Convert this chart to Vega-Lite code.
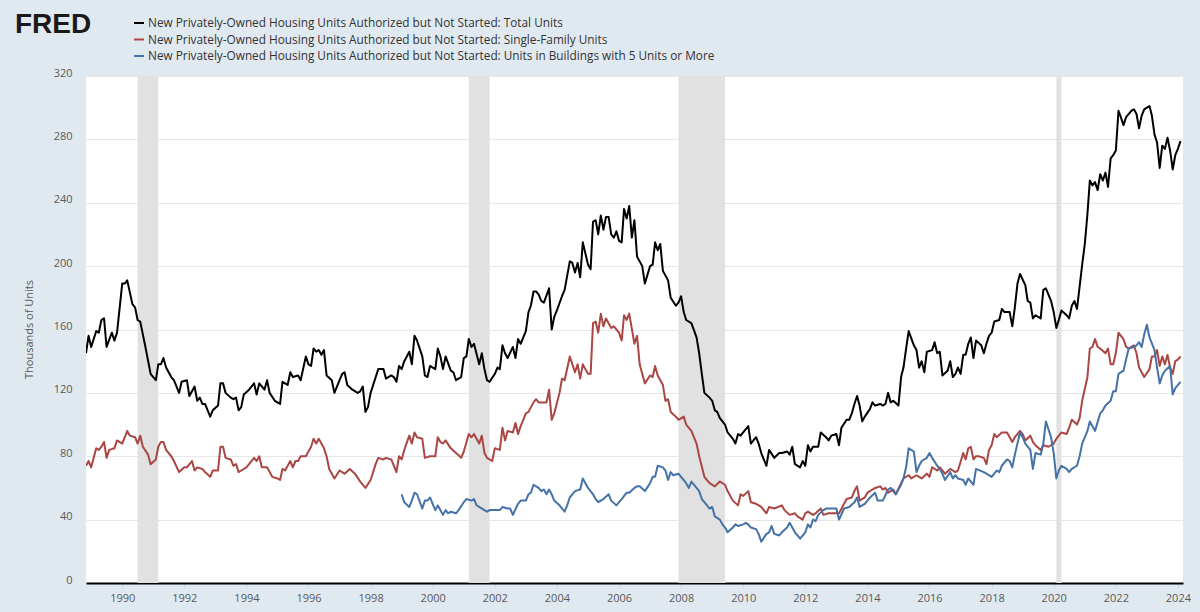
{
  "$schema": "https://vega.github.io/schema/vega-lite/v6.json",
  "width": 1097,
  "height": 507,
  "autosize": {"type": "none"},
  "padding": {"left": 86, "top": 76, "right": 17, "bottom": 29},
  "background": "#e1e9f0",
  "config": {
    "view": {"stroke": null, "fill": "#ffffff"},
    "font": "Open Sans"
  },
  "title": {
    "text": "FRED",
    "anchor": "start",
    "frame": "group",
    "dx": -71,
    "offset": 0,
    "dy": 44,
    "baseline": "alphabetic",
    "font": "Liberation Sans",
    "fontSize": 28,
    "fontWeight": "bold",
    "color": "#1a1a1a"
  },
  "datasets": {
    "rec": [
      {"a": "1990-07-01", "b": "1991-03-01"},
      {"a": "2001-03-01", "b": "2001-11-01"},
      {"a": "2007-12-01", "b": "2009-06-01"},
      {"a": "2020-02-01", "b": "2020-04-01"}
    ],
    "ser": [
      {"d":"1988-11","s":"T","v":145},{"d":"1988-12","s":"T","v":156},{"d":"1989-01","s":"T","v":149},{"d":"1989-03","s":"T","v":159},{"d":"1989-04","s":"T","v":158},{"d":"1989-05","s":"T","v":166},{"d":"1989-06","s":"T","v":167},{"d":"1989-07","s":"T","v":149},{"d":"1989-09","s":"T","v":158},{"d":"1989-10","s":"T","v":153},{"d":"1989-11","s":"T","v":158},{"d":"1990-01","s":"T","v":189},{"d":"1990-02","s":"T","v":189},{"d":"1990-03","s":"T","v":191},{"d":"1990-05","s":"T","v":176},{"d":"1990-06","s":"T","v":174},{"d":"1990-07","s":"T","v":166},{"d":"1990-08","s":"T","v":165},{"d":"1990-10","s":"T","v":149},{"d":"1990-12","s":"T","v":132},{"d":"1991-01","s":"T","v":130},{"d":"1991-02","s":"T","v":128},{"d":"1991-03","s":"T","v":138},{"d":"1991-04","s":"T","v":138},{"d":"1991-05","s":"T","v":142},{"d":"1991-06","s":"T","v":136},{"d":"1991-08","s":"T","v":130},{"d":"1991-09","s":"T","v":128},{"d":"1991-11","s":"T","v":120},{"d":"1991-12","s":"T","v":127},{"d":"1992-02","s":"T","v":128},{"d":"1992-03","s":"T","v":118},{"d":"1992-05","s":"T","v":124},{"d":"1992-06","s":"T","v":115},{"d":"1992-07","s":"T","v":117},{"d":"1992-08","s":"T","v":113},{"d":"1992-09","s":"T","v":113},{"d":"1992-11","s":"T","v":105},{"d":"1992-12","s":"T","v":109},{"d":"1993-02","s":"T","v":112},{"d":"1993-03","s":"T","v":126},{"d":"1993-04","s":"T","v":126},{"d":"1993-05","s":"T","v":120},{"d":"1993-07","s":"T","v":117},{"d":"1993-08","s":"T","v":116},{"d":"1993-09","s":"T","v":117},{"d":"1993-10","s":"T","v":109},{"d":"1993-11","s":"T","v":111},{"d":"1993-12","s":"T","v":119},{"d":"1994-02","s":"T","v":122},{"d":"1994-04","s":"T","v":126},{"d":"1994-05","s":"T","v":119},{"d":"1994-06","s":"T","v":126},{"d":"1994-08","s":"T","v":122},{"d":"1994-09","s":"T","v":128},{"d":"1994-10","s":"T","v":120},{"d":"1994-12","s":"T","v":115},{"d":"1995-02","s":"T","v":113},{"d":"1995-03","s":"T","v":127},{"d":"1995-05","s":"T","v":125},{"d":"1995-06","s":"T","v":133},{"d":"1995-07","s":"T","v":130},{"d":"1995-09","s":"T","v":131},{"d":"1995-10","s":"T","v":128},{"d":"1995-12","s":"T","v":143},{"d":"1996-01","s":"T","v":138},{"d":"1996-02","s":"T","v":137},{"d":"1996-03","s":"T","v":148},{"d":"1996-04","s":"T","v":146},{"d":"1996-05","s":"T","v":147},{"d":"1996-06","s":"T","v":144},{"d":"1996-07","s":"T","v":147},{"d":"1996-08","s":"T","v":131},{"d":"1996-10","s":"T","v":128},{"d":"1996-11","s":"T","v":120},{"d":"1997-01","s":"T","v":128},{"d":"1997-02","s":"T","v":132},{"d":"1997-03","s":"T","v":133},{"d":"1997-04","s":"T","v":125},{"d":"1997-06","s":"T","v":122},{"d":"1997-08","s":"T","v":120},{"d":"1997-09","s":"T","v":121},{"d":"1997-10","s":"T","v":124},{"d":"1997-11","s":"T","v":108},{"d":"1997-12","s":"T","v":111},{"d":"1998-01","s":"T","v":120},{"d":"1998-04","s":"T","v":135},{"d":"1998-06","s":"T","v":135},{"d":"1998-07","s":"T","v":129},{"d":"1998-09","s":"T","v":131},{"d":"1998-10","s":"T","v":130},{"d":"1998-11","s":"T","v":127},{"d":"1998-12","s":"T","v":137},{"d":"1999-01","s":"T","v":135},{"d":"1999-02","s":"T","v":140},{"d":"1999-04","s":"T","v":146},{"d":"1999-05","s":"T","v":138},{"d":"1999-06","s":"T","v":156},{"d":"1999-07","s":"T","v":153},{"d":"1999-09","s":"T","v":143},{"d":"1999-10","s":"T","v":131},{"d":"1999-11","s":"T","v":130},{"d":"1999-12","s":"T","v":137},{"d":"2000-02","s":"T","v":135},{"d":"2000-03","s":"T","v":148},{"d":"2000-04","s":"T","v":143},{"d":"2000-05","s":"T","v":135},{"d":"2000-06","s":"T","v":143},{"d":"2000-08","s":"T","v":134},{"d":"2000-09","s":"T","v":133},{"d":"2000-10","s":"T","v":128},{"d":"2000-12","s":"T","v":130},{"d":"2001-01","s":"T","v":142},{"d":"2001-02","s":"T","v":143},{"d":"2001-03","s":"T","v":154},{"d":"2001-04","s":"T","v":149},{"d":"2001-05","s":"T","v":151},{"d":"2001-07","s":"T","v":138},{"d":"2001-08","s":"T","v":145},{"d":"2001-09","s":"T","v":135},{"d":"2001-10","s":"T","v":128},{"d":"2001-11","s":"T","v":127},{"d":"2002-01","s":"T","v":132},{"d":"2002-02","s":"T","v":136},{"d":"2002-03","s":"T","v":135},{"d":"2002-04","s":"T","v":150},{"d":"2002-05","s":"T","v":145},{"d":"2002-06","s":"T","v":142},{"d":"2002-08","s":"T","v":149},{"d":"2002-09","s":"T","v":142},{"d":"2002-10","s":"T","v":154},{"d":"2002-11","s":"T","v":151},{"d":"2003-01","s":"T","v":159},{"d":"2003-02","s":"T","v":171},{"d":"2003-03","s":"T","v":175},{"d":"2003-04","s":"T","v":184},{"d":"2003-05","s":"T","v":184},{"d":"2003-06","s":"T","v":182},{"d":"2003-07","s":"T","v":178},{"d":"2003-08","s":"T","v":177},{"d":"2003-10","s":"T","v":186},{"d":"2003-11","s":"T","v":160},{"d":"2003-12","s":"T","v":168},{"d":"2004-01","s":"T","v":172},{"d":"2004-03","s":"T","v":181},{"d":"2004-04","s":"T","v":185},{"d":"2004-06","s":"T","v":203},{"d":"2004-07","s":"T","v":202},{"d":"2004-08","s":"T","v":196},{"d":"2004-09","s":"T","v":202},{"d":"2004-10","s":"T","v":193},{"d":"2004-11","s":"T","v":215},{"d":"2005-01","s":"T","v":201},{"d":"2005-02","s":"T","v":198},{"d":"2005-03","s":"T","v":228},{"d":"2005-04","s":"T","v":229},{"d":"2005-05","s":"T","v":220},{"d":"2005-06","s":"T","v":232},{"d":"2005-07","s":"T","v":223},{"d":"2005-08","s":"T","v":231},{"d":"2005-09","s":"T","v":231},{"d":"2005-10","s":"T","v":220},{"d":"2005-11","s":"T","v":218},{"d":"2005-12","s":"T","v":222},{"d":"2006-01","s":"T","v":216},{"d":"2006-02","s":"T","v":215},{"d":"2006-03","s":"T","v":236},{"d":"2006-04","s":"T","v":230},{"d":"2006-05","s":"T","v":238},{"d":"2006-06","s":"T","v":218},{"d":"2006-07","s":"T","v":229},{"d":"2006-08","s":"T","v":206},{"d":"2006-10","s":"T","v":200},{"d":"2006-11","s":"T","v":189},{"d":"2007-01","s":"T","v":200},{"d":"2007-02","s":"T","v":201},{"d":"2007-03","s":"T","v":215},{"d":"2007-04","s":"T","v":210},{"d":"2007-05","s":"T","v":214},{"d":"2007-06","s":"T","v":197},{"d":"2007-08","s":"T","v":191},{"d":"2007-09","s":"T","v":180},{"d":"2007-11","s":"T","v":175},{"d":"2007-12","s":"T","v":177},{"d":"2008-01","s":"T","v":181},{"d":"2008-02","s":"T","v":171},{"d":"2008-03","s":"T","v":166},{"d":"2008-05","s":"T","v":164},{"d":"2008-07","s":"T","v":155},{"d":"2008-08","s":"T","v":145},{"d":"2008-09","s":"T","v":132},{"d":"2008-10","s":"T","v":120},{"d":"2008-12","s":"T","v":117},{"d":"2009-01","s":"T","v":115},{"d":"2009-02","s":"T","v":109},{"d":"2009-03","s":"T","v":108},{"d":"2009-04","s":"T","v":104},{"d":"2009-06","s":"T","v":100},{"d":"2009-07","s":"T","v":95},{"d":"2009-09","s":"T","v":91},{"d":"2009-10","s":"T","v":88},{"d":"2009-11","s":"T","v":94},{"d":"2009-12","s":"T","v":93},{"d":"2010-03","s":"T","v":99},{"d":"2010-04","s":"T","v":88},{"d":"2010-06","s":"T","v":92},{"d":"2010-07","s":"T","v":88},{"d":"2010-08","s":"T","v":82},{"d":"2010-10","s":"T","v":74},{"d":"2010-11","s":"T","v":84},{"d":"2011-01","s":"T","v":79},{"d":"2011-03","s":"T","v":82},{"d":"2011-04","s":"T","v":82},{"d":"2011-06","s":"T","v":83},{"d":"2011-07","s":"T","v":81},{"d":"2011-08","s":"T","v":86},{"d":"2011-09","s":"T","v":75},{"d":"2011-11","s":"T","v":73},{"d":"2011-12","s":"T","v":77},{"d":"2012-01","s":"T","v":74},{"d":"2012-02","s":"T","v":87},{"d":"2012-03","s":"T","v":83},{"d":"2012-04","s":"T","v":86},{"d":"2012-06","s":"T","v":86},{"d":"2012-07","s":"T","v":95},{"d":"2012-09","s":"T","v":92},{"d":"2012-10","s":"T","v":90},{"d":"2012-11","s":"T","v":93},{"d":"2013-01","s":"T","v":94},{"d":"2013-02","s":"T","v":87},{"d":"2013-03","s":"T","v":98},{"d":"2013-05","s":"T","v":103},{"d":"2013-06","s":"T","v":103},{"d":"2013-07","s":"T","v":107},{"d":"2013-08","s":"T","v":113},{"d":"2013-09","s":"T","v":118},{"d":"2013-10","s":"T","v":112},{"d":"2013-11","s":"T","v":102},{"d":"2013-12","s":"T","v":105},{"d":"2014-02","s":"T","v":110},{"d":"2014-03","s":"T","v":114},{"d":"2014-04","s":"T","v":112},{"d":"2014-06","s":"T","v":113},{"d":"2014-07","s":"T","v":112},{"d":"2014-08","s":"T","v":113},{"d":"2014-09","s":"T","v":120},{"d":"2014-10","s":"T","v":114},{"d":"2014-11","s":"T","v":115},{"d":"2015-01","s":"T","v":112},{"d":"2015-02","s":"T","v":130},{"d":"2015-03","s":"T","v":136},{"d":"2015-04","s":"T","v":148},{"d":"2015-05","s":"T","v":159},{"d":"2015-07","s":"T","v":150},{"d":"2015-08","s":"T","v":147},{"d":"2015-09","s":"T","v":136},{"d":"2015-10","s":"T","v":140},{"d":"2015-11","s":"T","v":133},{"d":"2015-12","s":"T","v":146},{"d":"2016-02","s":"T","v":147},{"d":"2016-03","s":"T","v":152},{"d":"2016-04","s":"T","v":145},{"d":"2016-05","s":"T","v":146},{"d":"2016-06","s":"T","v":131},{"d":"2016-08","s":"T","v":134},{"d":"2016-09","s":"T","v":140},{"d":"2016-10","s":"T","v":130},{"d":"2016-11","s":"T","v":132},{"d":"2016-12","s":"T","v":136},{"d":"2017-01","s":"T","v":132},{"d":"2017-02","s":"T","v":144},{"d":"2017-03","s":"T","v":144},{"d":"2017-04","s":"T","v":151},{"d":"2017-05","s":"T","v":155},{"d":"2017-06","s":"T","v":142},{"d":"2017-07","s":"T","v":153},{"d":"2017-09","s":"T","v":150},{"d":"2017-10","s":"T","v":145},{"d":"2017-11","s":"T","v":151},{"d":"2017-12","s":"T","v":156},{"d":"2018-01","s":"T","v":158},{"d":"2018-02","s":"T","v":165},{"d":"2018-04","s":"T","v":166},{"d":"2018-05","s":"T","v":173},{"d":"2018-06","s":"T","v":171},{"d":"2018-08","s":"T","v":171},{"d":"2018-09","s":"T","v":162},{"d":"2018-10","s":"T","v":174},{"d":"2018-11","s":"T","v":189},{"d":"2018-12","s":"T","v":195},{"d":"2019-02","s":"T","v":188},{"d":"2019-03","s":"T","v":178},{"d":"2019-04","s":"T","v":177},{"d":"2019-05","s":"T","v":167},{"d":"2019-06","s":"T","v":169},{"d":"2019-08","s":"T","v":167},{"d":"2019-09","s":"T","v":185},{"d":"2019-10","s":"T","v":186},{"d":"2019-12","s":"T","v":178},{"d":"2020-01","s":"T","v":171},{"d":"2020-02","s":"T","v":161},{"d":"2020-03","s":"T","v":166},{"d":"2020-04","s":"T","v":172},{"d":"2020-06","s":"T","v":169},{"d":"2020-07","s":"T","v":167},{"d":"2020-08","s":"T","v":175},{"d":"2020-09","s":"T","v":178},{"d":"2020-10","s":"T","v":173},{"d":"2020-11","s":"T","v":187},{"d":"2020-12","s":"T","v":201},{"d":"2021-01","s":"T","v":214},{"d":"2021-02","s":"T","v":233},{"d":"2021-03","s":"T","v":254},{"d":"2021-04","s":"T","v":251},{"d":"2021-05","s":"T","v":253},{"d":"2021-06","s":"T","v":248},{"d":"2021-07","s":"T","v":258},{"d":"2021-08","s":"T","v":254},{"d":"2021-09","s":"T","v":259},{"d":"2021-10","s":"T","v":250},{"d":"2021-11","s":"T","v":268},{"d":"2021-12","s":"T","v":270},{"d":"2022-01","s":"T","v":273},{"d":"2022-02","s":"T","v":298},{"d":"2022-03","s":"T","v":294},{"d":"2022-04","s":"T","v":289},{"d":"2022-05","s":"T","v":294},{"d":"2022-06","s":"T","v":296},{"d":"2022-07","s":"T","v":298},{"d":"2022-08","s":"T","v":299},{"d":"2022-09","s":"T","v":296},{"d":"2022-10","s":"T","v":287},{"d":"2022-11","s":"T","v":295},{"d":"2022-12","s":"T","v":299},{"d":"2023-01","s":"T","v":300},{"d":"2023-02","s":"T","v":301},{"d":"2023-03","s":"T","v":295},{"d":"2023-04","s":"T","v":283},{"d":"2023-05","s":"T","v":278},{"d":"2023-06","s":"T","v":262},{"d":"2023-07","s":"T","v":276},{"d":"2023-08","s":"T","v":274},{"d":"2023-09","s":"T","v":281},{"d":"2023-10","s":"T","v":273},{"d":"2023-11","s":"T","v":261},{"d":"2023-12","s":"T","v":270},{"d":"2024-01","s":"T","v":274},{"d":"2024-02","s":"T","v":279},
      {"d":"1988-11","s":"S","v":74},{"d":"1988-12","s":"S","v":77},{"d":"1989-01","s":"S","v":73},{"d":"1989-03","s":"S","v":85},{"d":"1989-04","s":"S","v":84},{"d":"1989-05","s":"S","v":86},{"d":"1989-06","s":"S","v":89},{"d":"1989-07","s":"S","v":79},{"d":"1989-08","s":"S","v":84},{"d":"1989-10","s":"S","v":85},{"d":"1989-11","s":"S","v":90},{"d":"1990-01","s":"S","v":88},{"d":"1990-02","s":"S","v":92},{"d":"1990-03","s":"S","v":96},{"d":"1990-04","s":"S","v":93},{"d":"1990-06","s":"S","v":92},{"d":"1990-07","s":"S","v":88},{"d":"1990-08","s":"S","v":93},{"d":"1990-09","s":"S","v":86},{"d":"1990-11","s":"S","v":81},{"d":"1990-12","s":"S","v":75},{"d":"1991-02","s":"S","v":78},{"d":"1991-03","s":"S","v":86},{"d":"1991-04","s":"S","v":89},{"d":"1991-05","s":"S","v":89},{"d":"1991-06","s":"S","v":84},{"d":"1991-08","s":"S","v":80},{"d":"1991-09","s":"S","v":77},{"d":"1991-11","s":"S","v":70},{"d":"1992-01","s":"S","v":73},{"d":"1992-02","s":"S","v":73},{"d":"1992-04","s":"S","v":77},{"d":"1992-05","s":"S","v":71},{"d":"1992-06","s":"S","v":73},{"d":"1992-08","s":"S","v":72},{"d":"1992-09","s":"S","v":70},{"d":"1992-11","s":"S","v":67},{"d":"1992-12","s":"S","v":71},{"d":"1993-02","s":"S","v":71},{"d":"1993-03","s":"S","v":86},{"d":"1993-04","s":"S","v":86},{"d":"1993-05","s":"S","v":79},{"d":"1993-07","s":"S","v":78},{"d":"1993-08","s":"S","v":74},{"d":"1993-09","s":"S","v":75},{"d":"1993-10","s":"S","v":70},{"d":"1993-11","s":"S","v":71},{"d":"1994-01","s":"S","v":73},{"d":"1994-02","s":"S","v":75},{"d":"1994-04","s":"S","v":79},{"d":"1994-05","s":"S","v":77},{"d":"1994-06","s":"S","v":80},{"d":"1994-07","s":"S","v":73},{"d":"1994-09","s":"S","v":73},{"d":"1994-11","s":"S","v":67},{"d":"1995-01","s":"S","v":66},{"d":"1995-02","s":"S","v":65},{"d":"1995-03","s":"S","v":72},{"d":"1995-04","s":"S","v":71},{"d":"1995-06","s":"S","v":77},{"d":"1995-07","s":"S","v":73},{"d":"1995-08","s":"S","v":77},{"d":"1995-09","s":"S","v":77},{"d":"1995-10","s":"S","v":80},{"d":"1995-12","s":"S","v":80},{"d":"1996-02","s":"S","v":86},{"d":"1996-03","s":"S","v":91},{"d":"1996-04","s":"S","v":88},{"d":"1996-05","s":"S","v":91},{"d":"1996-07","s":"S","v":85},{"d":"1996-08","s":"S","v":80},{"d":"1996-09","s":"S","v":72},{"d":"1996-11","s":"S","v":66},{"d":"1997-01","s":"S","v":71},{"d":"1997-03","s":"S","v":69},{"d":"1997-05","s":"S","v":72},{"d":"1997-07","s":"S","v":69},{"d":"1997-09","s":"S","v":64},{"d":"1997-11","s":"S","v":60},{"d":"1998-01","s":"S","v":65},{"d":"1998-03","s":"S","v":75},{"d":"1998-04","s":"S","v":79},{"d":"1998-06","s":"S","v":78},{"d":"1998-07","s":"S","v":79},{"d":"1998-09","s":"S","v":78},{"d":"1998-11","s":"S","v":70},{"d":"1998-12","s":"S","v":80},{"d":"1999-01","s":"S","v":78},{"d":"1999-02","s":"S","v":84},{"d":"1999-04","s":"S","v":93},{"d":"1999-05","s":"S","v":88},{"d":"1999-06","s":"S","v":95},{"d":"1999-07","s":"S","v":92},{"d":"1999-09","s":"S","v":91},{"d":"1999-10","s":"S","v":79},{"d":"1999-12","s":"S","v":80},{"d":"2000-02","s":"S","v":80},{"d":"2000-03","s":"S","v":92},{"d":"2000-04","s":"S","v":89},{"d":"2000-05","s":"S","v":88},{"d":"2000-06","s":"S","v":90},{"d":"2000-08","s":"S","v":85},{"d":"2000-10","s":"S","v":82},{"d":"2000-12","s":"S","v":79},{"d":"2001-01","s":"S","v":83},{"d":"2001-03","s":"S","v":94},{"d":"2001-04","s":"S","v":92},{"d":"2001-05","s":"S","v":94},{"d":"2001-07","s":"S","v":88},{"d":"2001-08","s":"S","v":93},{"d":"2001-09","s":"S","v":82},{"d":"2001-10","s":"S","v":79},{"d":"2001-12","s":"S","v":77},{"d":"2002-01","s":"S","v":85},{"d":"2002-03","s":"S","v":84},{"d":"2002-04","s":"S","v":98},{"d":"2002-05","s":"S","v":90},{"d":"2002-06","s":"S","v":96},{"d":"2002-08","s":"S","v":95},{"d":"2002-09","s":"S","v":101},{"d":"2002-10","s":"S","v":94},{"d":"2002-11","s":"S","v":99},{"d":"2003-01","s":"S","v":107},{"d":"2003-02","s":"S","v":108},{"d":"2003-04","s":"S","v":114},{"d":"2003-05","s":"S","v":116},{"d":"2003-06","s":"S","v":114},{"d":"2003-07","s":"S","v":114},{"d":"2003-09","s":"S","v":114},{"d":"2003-10","s":"S","v":122},{"d":"2003-11","s":"S","v":103},{"d":"2003-12","s":"S","v":107},{"d":"2004-02","s":"S","v":120},{"d":"2004-03","s":"S","v":129},{"d":"2004-04","s":"S","v":128},{"d":"2004-06","s":"S","v":143},{"d":"2004-07","s":"S","v":138},{"d":"2004-08","s":"S","v":133},{"d":"2004-09","s":"S","v":138},{"d":"2004-10","s":"S","v":129},{"d":"2004-11","s":"S","v":138},{"d":"2005-01","s":"S","v":132},{"d":"2005-02","s":"S","v":132},{"d":"2005-03","s":"S","v":164},{"d":"2005-04","s":"S","v":165},{"d":"2005-05","s":"S","v":158},{"d":"2005-06","s":"S","v":170},{"d":"2005-07","s":"S","v":162},{"d":"2005-08","s":"S","v":167},{"d":"2005-10","s":"S","v":161},{"d":"2005-11","s":"S","v":162},{"d":"2006-01","s":"S","v":158},{"d":"2006-02","s":"S","v":153},{"d":"2006-03","s":"S","v":169},{"d":"2006-04","s":"S","v":166},{"d":"2006-05","s":"S","v":170},{"d":"2006-07","s":"S","v":151},{"d":"2006-08","s":"S","v":156},{"d":"2006-09","s":"S","v":138},{"d":"2006-10","s":"S","v":132},{"d":"2006-11","s":"S","v":126},{"d":"2007-01","s":"S","v":131},{"d":"2007-02","s":"S","v":130},{"d":"2007-03","s":"S","v":137},{"d":"2007-04","s":"S","v":131},{"d":"2007-06","s":"S","v":125},{"d":"2007-07","s":"S","v":115},{"d":"2007-08","s":"S","v":116},{"d":"2007-09","s":"S","v":108},{"d":"2007-11","s":"S","v":105},{"d":"2007-12","s":"S","v":103},{"d":"2008-02","s":"S","v":105},{"d":"2008-03","s":"S","v":100},{"d":"2008-05","s":"S","v":96},{"d":"2008-07","s":"S","v":88},{"d":"2008-08","s":"S","v":80},{"d":"2008-10","s":"S","v":67},{"d":"2008-12","s":"S","v":63},{"d":"2009-02","s":"S","v":61},{"d":"2009-04","s":"S","v":64},{"d":"2009-06","s":"S","v":62},{"d":"2009-07","s":"S","v":58},{"d":"2009-09","s":"S","v":52},{"d":"2009-11","s":"S","v":49},{"d":"2009-12","s":"S","v":56},{"d":"2010-01","s":"S","v":55},{"d":"2010-03","s":"S","v":58},{"d":"2010-04","s":"S","v":51},{"d":"2010-06","s":"S","v":50},{"d":"2010-08","s":"S","v":48},{"d":"2010-10","s":"S","v":44},{"d":"2010-11","s":"S","v":48},{"d":"2011-01","s":"S","v":47},{"d":"2011-04","s":"S","v":49},{"d":"2011-05","s":"S","v":46},{"d":"2011-07","s":"S","v":43},{"d":"2011-09","s":"S","v":44},{"d":"2011-10","s":"S","v":42},{"d":"2011-12","s":"S","v":40},{"d":"2012-01","s":"S","v":44},{"d":"2012-02","s":"S","v":45},{"d":"2012-04","s":"S","v":43},{"d":"2012-05","s":"S","v":44},{"d":"2012-07","s":"S","v":47},{"d":"2012-08","s":"S","v":43},{"d":"2012-10","s":"S","v":44},{"d":"2012-11","s":"S","v":44},{"d":"2013-01","s":"S","v":44},{"d":"2013-02","s":"S","v":44},{"d":"2013-04","s":"S","v":50},{"d":"2013-05","s":"S","v":53},{"d":"2013-07","s":"S","v":54},{"d":"2013-08","s":"S","v":58},{"d":"2013-09","s":"S","v":61},{"d":"2013-10","s":"S","v":52},{"d":"2013-12","s":"S","v":54},{"d":"2014-01","s":"S","v":57},{"d":"2014-03","s":"S","v":59},{"d":"2014-04","s":"S","v":60},{"d":"2014-06","s":"S","v":61},{"d":"2014-07","s":"S","v":59},{"d":"2014-08","s":"S","v":60},{"d":"2014-09","s":"S","v":57},{"d":"2014-11","s":"S","v":59},{"d":"2014-12","s":"S","v":56},{"d":"2015-02","s":"S","v":63},{"d":"2015-03","s":"S","v":66},{"d":"2015-05","s":"S","v":68},{"d":"2015-06","s":"S","v":66},{"d":"2015-08","s":"S","v":68},{"d":"2015-09","s":"S","v":67},{"d":"2015-10","s":"S","v":66},{"d":"2015-12","s":"S","v":69},{"d":"2016-01","s":"S","v":67},{"d":"2016-02","s":"S","v":73},{"d":"2016-04","s":"S","v":71},{"d":"2016-05","s":"S","v":73},{"d":"2016-06","s":"S","v":71},{"d":"2016-07","s":"S","v":69},{"d":"2016-09","s":"S","v":72},{"d":"2016-10","s":"S","v":71},{"d":"2016-11","s":"S","v":70},{"d":"2016-12","s":"S","v":71},{"d":"2017-02","s":"S","v":82},{"d":"2017-03","s":"S","v":78},{"d":"2017-04","s":"S","v":85},{"d":"2017-05","s":"S","v":86},{"d":"2017-06","s":"S","v":78},{"d":"2017-07","s":"S","v":80},{"d":"2017-08","s":"S","v":80},{"d":"2017-10","s":"S","v":79},{"d":"2017-11","s":"S","v":75},{"d":"2017-12","s":"S","v":84},{"d":"2018-01","s":"S","v":87},{"d":"2018-02","s":"S","v":94},{"d":"2018-03","s":"S","v":92},{"d":"2018-05","s":"S","v":95},{"d":"2018-07","s":"S","v":95},{"d":"2018-08","s":"S","v":92},{"d":"2018-09","s":"S","v":89},{"d":"2018-10","s":"S","v":92},{"d":"2018-12","s":"S","v":96},{"d":"2019-01","s":"S","v":94},{"d":"2019-02","s":"S","v":90},{"d":"2019-04","s":"S","v":93},{"d":"2019-05","s":"S","v":89},{"d":"2019-06","s":"S","v":87},{"d":"2019-08","s":"S","v":84},{"d":"2019-09","s":"S","v":87},{"d":"2019-11","s":"S","v":86},{"d":"2020-01","s":"S","v":88},{"d":"2020-02","s":"S","v":91},{"d":"2020-03","s":"S","v":93},{"d":"2020-04","s":"S","v":95},{"d":"2020-06","s":"S","v":94},{"d":"2020-07","s":"S","v":98},{"d":"2020-08","s":"S","v":103},{"d":"2020-10","s":"S","v":100},{"d":"2020-11","s":"S","v":104},{"d":"2020-12","s":"S","v":115},{"d":"2021-02","s":"S","v":130},{"d":"2021-03","s":"S","v":148},{"d":"2021-04","s":"S","v":149},{"d":"2021-05","s":"S","v":154},{"d":"2021-06","s":"S","v":149},{"d":"2021-07","s":"S","v":148},{"d":"2021-09","s":"S","v":145},{"d":"2021-10","s":"S","v":148},{"d":"2021-11","s":"S","v":138},{"d":"2021-12","s":"S","v":138},{"d":"2022-01","s":"S","v":145},{"d":"2022-02","s":"S","v":158},{"d":"2022-04","s":"S","v":154},{"d":"2022-05","s":"S","v":149},{"d":"2022-06","s":"S","v":148},{"d":"2022-08","s":"S","v":150},{"d":"2022-09","s":"S","v":145},{"d":"2022-10","s":"S","v":136},{"d":"2022-12","s":"S","v":130},{"d":"2023-02","s":"S","v":135},{"d":"2023-03","s":"S","v":143},{"d":"2023-04","s":"S","v":143},{"d":"2023-05","s":"S","v":147},{"d":"2023-06","s":"S","v":137},{"d":"2023-07","s":"S","v":143},{"d":"2023-08","s":"S","v":138},{"d":"2023-09","s":"S","v":144},{"d":"2023-10","s":"S","v":136},{"d":"2023-11","s":"S","v":132},{"d":"2023-12","s":"S","v":140},{"d":"2024-01","s":"S","v":141},{"d":"2024-02","s":"S","v":143},
      {"d":"1999-01","s":"M","v":56},{"d":"1999-02","s":"M","v":51},{"d":"1999-04","s":"M","v":48},{"d":"1999-05","s":"M","v":52},{"d":"1999-06","s":"M","v":57},{"d":"1999-07","s":"M","v":56},{"d":"1999-09","s":"M","v":47},{"d":"1999-10","s":"M","v":52},{"d":"1999-11","s":"M","v":52},{"d":"1999-12","s":"M","v":54},{"d":"2000-01","s":"M","v":50},{"d":"2000-02","s":"M","v":46},{"d":"2000-03","s":"M","v":49},{"d":"2000-05","s":"M","v":43},{"d":"2000-06","s":"M","v":46},{"d":"2000-07","s":"M","v":44},{"d":"2000-08","s":"M","v":45},{"d":"2000-10","s":"M","v":44},{"d":"2000-11","s":"M","v":46},{"d":"2001-01","s":"M","v":51},{"d":"2001-02","s":"M","v":53},{"d":"2001-04","s":"M","v":52},{"d":"2001-05","s":"M","v":53},{"d":"2001-06","s":"M","v":49},{"d":"2001-07","s":"M","v":48},{"d":"2001-09","s":"M","v":46},{"d":"2001-10","s":"M","v":45},{"d":"2001-11","s":"M","v":46},{"d":"2002-01","s":"M","v":46},{"d":"2002-03","s":"M","v":46},{"d":"2002-04","s":"M","v":48},{"d":"2002-06","s":"M","v":47},{"d":"2002-07","s":"M","v":47},{"d":"2002-08","s":"M","v":43},{"d":"2002-10","s":"M","v":50},{"d":"2002-11","s":"M","v":52},{"d":"2003-01","s":"M","v":52},{"d":"2003-02","s":"M","v":56},{"d":"2003-03","s":"M","v":57},{"d":"2003-04","s":"M","v":62},{"d":"2003-05","s":"M","v":61},{"d":"2003-06","s":"M","v":60},{"d":"2003-07","s":"M","v":58},{"d":"2003-08","s":"M","v":59},{"d":"2003-09","s":"M","v":56},{"d":"2003-10","s":"M","v":59},{"d":"2003-11","s":"M","v":56},{"d":"2003-12","s":"M","v":52},{"d":"2004-02","s":"M","v":49},{"d":"2004-04","s":"M","v":45},{"d":"2004-05","s":"M","v":49},{"d":"2004-06","s":"M","v":54},{"d":"2004-08","s":"M","v":58},{"d":"2004-10","s":"M","v":59},{"d":"2004-11","s":"M","v":66},{"d":"2005-01","s":"M","v":60},{"d":"2005-03","s":"M","v":56},{"d":"2005-04","s":"M","v":53},{"d":"2005-05","s":"M","v":51},{"d":"2005-07","s":"M","v":53},{"d":"2005-09","s":"M","v":56},{"d":"2005-10","s":"M","v":52},{"d":"2005-12","s":"M","v":49},{"d":"2006-02","s":"M","v":53},{"d":"2006-04","s":"M","v":57},{"d":"2006-05","s":"M","v":57},{"d":"2006-07","s":"M","v":60},{"d":"2006-08","s":"M","v":61},{"d":"2006-09","s":"M","v":61},{"d":"2006-11","s":"M","v":58},{"d":"2007-01","s":"M","v":63},{"d":"2007-02","s":"M","v":67},{"d":"2007-03","s":"M","v":67},{"d":"2007-04","s":"M","v":74},{"d":"2007-06","s":"M","v":73},{"d":"2007-07","s":"M","v":71},{"d":"2007-08","s":"M","v":65},{"d":"2007-09","s":"M","v":70},{"d":"2007-10","s":"M","v":68},{"d":"2007-12","s":"M","v":69},{"d":"2008-01","s":"M","v":67},{"d":"2008-03","s":"M","v":63},{"d":"2008-04","s":"M","v":60},{"d":"2008-05","s":"M","v":64},{"d":"2008-07","s":"M","v":60},{"d":"2008-08","s":"M","v":58},{"d":"2008-09","s":"M","v":53},{"d":"2008-11","s":"M","v":49},{"d":"2008-12","s":"M","v":47},{"d":"2009-01","s":"M","v":48},{"d":"2009-02","s":"M","v":42},{"d":"2009-04","s":"M","v":40},{"d":"2009-05","s":"M","v":37},{"d":"2009-06","s":"M","v":35},{"d":"2009-07","s":"M","v":32},{"d":"2009-09","s":"M","v":35},{"d":"2009-10","s":"M","v":37},{"d":"2009-11","s":"M","v":36},{"d":"2010-01","s":"M","v":37},{"d":"2010-02","s":"M","v":38},{"d":"2010-03","s":"M","v":37},{"d":"2010-04","s":"M","v":35},{"d":"2010-06","s":"M","v":34},{"d":"2010-07","s":"M","v":31},{"d":"2010-08","s":"M","v":26},{"d":"2010-10","s":"M","v":31},{"d":"2010-11","s":"M","v":32},{"d":"2010-12","s":"M","v":36},{"d":"2011-01","s":"M","v":31},{"d":"2011-03","s":"M","v":30},{"d":"2011-04","s":"M","v":32},{"d":"2011-06","s":"M","v":35},{"d":"2011-07","s":"M","v":38},{"d":"2011-09","s":"M","v":32},{"d":"2011-10","s":"M","v":30},{"d":"2011-11","s":"M","v":28},{"d":"2012-01","s":"M","v":32},{"d":"2012-02","s":"M","v":37},{"d":"2012-03","s":"M","v":35},{"d":"2012-04","s":"M","v":40},{"d":"2012-05","s":"M","v":39},{"d":"2012-06","s":"M","v":43},{"d":"2012-08","s":"M","v":46},{"d":"2012-09","s":"M","v":47},{"d":"2012-11","s":"M","v":47},{"d":"2013-01","s":"M","v":47},{"d":"2013-02","s":"M","v":40},{"d":"2013-04","s":"M","v":47},{"d":"2013-06","s":"M","v":48},{"d":"2013-08","s":"M","v":51},{"d":"2013-09","s":"M","v":54},{"d":"2013-10","s":"M","v":48},{"d":"2013-12","s":"M","v":50},{"d":"2014-02","s":"M","v":54},{"d":"2014-04","s":"M","v":57},{"d":"2014-05","s":"M","v":52},{"d":"2014-07","s":"M","v":52},{"d":"2014-09","s":"M","v":59},{"d":"2014-10","s":"M","v":60},{"d":"2014-12","s":"M","v":56},{"d":"2015-02","s":"M","v":62},{"d":"2015-03","s":"M","v":66},{"d":"2015-04","s":"M","v":73},{"d":"2015-05","s":"M","v":85},{"d":"2015-07","s":"M","v":83},{"d":"2015-08","s":"M","v":70},{"d":"2015-09","s":"M","v":74},{"d":"2015-10","s":"M","v":77},{"d":"2015-12","s":"M","v":79},{"d":"2016-01","s":"M","v":82},{"d":"2016-02","s":"M","v":79},{"d":"2016-04","s":"M","v":74},{"d":"2016-05","s":"M","v":72},{"d":"2016-06","s":"M","v":69},{"d":"2016-07","s":"M","v":65},{"d":"2016-09","s":"M","v":70},{"d":"2016-10","s":"M","v":66},{"d":"2016-11","s":"M","v":68},{"d":"2016-12","s":"M","v":66},{"d":"2017-02","s":"M","v":65},{"d":"2017-03","s":"M","v":62},{"d":"2017-04","s":"M","v":66},{"d":"2017-06","s":"M","v":62},{"d":"2017-07","s":"M","v":72},{"d":"2017-10","s":"M","v":70},{"d":"2017-11","s":"M","v":69},{"d":"2018-01","s":"M","v":67},{"d":"2018-03","s":"M","v":71},{"d":"2018-04","s":"M","v":70},{"d":"2018-05","s":"M","v":74},{"d":"2018-07","s":"M","v":78},{"d":"2018-08","s":"M","v":77},{"d":"2018-09","s":"M","v":73},{"d":"2018-10","s":"M","v":81},{"d":"2018-12","s":"M","v":95},{"d":"2019-01","s":"M","v":92},{"d":"2019-02","s":"M","v":88},{"d":"2019-04","s":"M","v":84},{"d":"2019-05","s":"M","v":72},{"d":"2019-06","s":"M","v":82},{"d":"2019-08","s":"M","v":81},{"d":"2019-09","s":"M","v":88},{"d":"2019-10","s":"M","v":102},{"d":"2019-12","s":"M","v":92},{"d":"2020-01","s":"M","v":82},{"d":"2020-02","s":"M","v":66},{"d":"2020-03","s":"M","v":71},{"d":"2020-04","s":"M","v":74},{"d":"2020-06","s":"M","v":72},{"d":"2020-07","s":"M","v":70},{"d":"2020-08","s":"M","v":72},{"d":"2020-10","s":"M","v":74},{"d":"2020-11","s":"M","v":80},{"d":"2020-12","s":"M","v":88},{"d":"2021-02","s":"M","v":96},{"d":"2021-03","s":"M","v":102},{"d":"2021-04","s":"M","v":99},{"d":"2021-05","s":"M","v":96},{"d":"2021-07","s":"M","v":107},{"d":"2021-08","s":"M","v":109},{"d":"2021-09","s":"M","v":112},{"d":"2021-11","s":"M","v":115},{"d":"2021-12","s":"M","v":121},{"d":"2022-01","s":"M","v":121},{"d":"2022-02","s":"M","v":132},{"d":"2022-04","s":"M","v":134},{"d":"2022-05","s":"M","v":141},{"d":"2022-06","s":"M","v":148},{"d":"2022-08","s":"M","v":149},{"d":"2022-09","s":"M","v":150},{"d":"2022-10","s":"M","v":152},{"d":"2022-11","s":"M","v":149},{"d":"2022-12","s":"M","v":157},{"d":"2023-01","s":"M","v":163},{"d":"2023-02","s":"M","v":155},{"d":"2023-04","s":"M","v":147},{"d":"2023-05","s":"M","v":136},{"d":"2023-06","s":"M","v":126},{"d":"2023-07","s":"M","v":131},{"d":"2023-08","s":"M","v":134},{"d":"2023-10","s":"M","v":137},{"d":"2023-11","s":"M","v":119},{"d":"2023-12","s":"M","v":123},{"d":"2024-02","s":"M","v":127}
    ]
  },
  "layer": [
    {
      "data": {"name": "rec"},
      "mark": {"type": "rect", "color": "#e1e1e1"},
      "encoding": {
        "x": {"field": "a", "type": "temporal"},
        "x2": {"field": "b"}
      }
    },
    {
      "data": {"name": "ser"},
      "mark": {"type": "line", "strokeWidth": 2, "clip": true, "strokeJoin": "round"},
      "encoding": {
        "x": {
          "field": "d",
          "type": "temporal",
          "scale": {"type": "utc", "domain": [{"year": 1988, "month": 11, "date": 1, "utc": true}, {"year": 2024, "month": 3, "date": 1, "utc": true}]},
          "axis": {
            "title": null,
            "format": "%Y",
            "tickCount": {"interval": "year", "step": 2},
            "grid": false,
            "domainColor": "#000000",
            "domainWidth": 2,
            "tickColor": "#ccd6eb",
            "tickSize": 5,
            "labelPadding": 4,
            "labelFont": "Open Sans",
            "labelFontSize": 11,
            "labelColor": "#595959"
          }
        },
        "y": {
          "field": "v",
          "type": "quantitative",
          "scale": {"domain": [0, 320], "nice": false},
          "axis": {
            "title": "Thousands of Units",
            "titleX": -57,
            "titleY": 253,
            "titleAngle": -90,
            "titleAlign": "center",
            "titleBaseline": "middle",
            "titleFont": "Open Sans",
            "titleFontSize": 11,
            "titleFontWeight": "normal",
            "titleColor": "#595959",
            "values": [0, 40, 80, 120, 160, 200, 240, 280, 320],
            "domain": false,
            "ticks": false,
            "labelPadding": 14,
            "labelBaseline": "alphabetic",
            "labelFont": "Open Sans",
            "labelFontSize": 11,
            "labelColor": "#595959",
            "gridColor": "#e6e6e6",
            "gridWidth": 1
          }
        },
        "color": {
          "field": "s",
          "type": "nominal",
          "scale": {"domain": ["T", "S", "M"], "range": ["#000000", "#aa4643", "#4572a7"]},
          "legend": {
            "orient": "none",
            "legendX": 47,
            "legendY": -59,
            "title": null,
            "direction": "vertical",
            "symbolType": "stroke",
            "symbolStrokeWidth": 2,
            "symbolSize": 100,
            "labelFont": "Open Sans",
            "labelFontSize": 11.8,
            "labelColor": "#333333",
            "labelLimit": 900,
            "labelOffset": 3,
            "rowPadding": 3.5,
            "labelExpr": "datum.value == 'T' ? 'New Privately-Owned Housing Units Authorized but Not Started: Total Units' : datum.value == 'S' ? 'New Privately-Owned Housing Units Authorized but Not Started: Single-Family Units' : 'New Privately-Owned Housing Units Authorized but Not Started: Units in Buildings with 5 Units or More'"
          }
        }
      }
    }
  ]
}
